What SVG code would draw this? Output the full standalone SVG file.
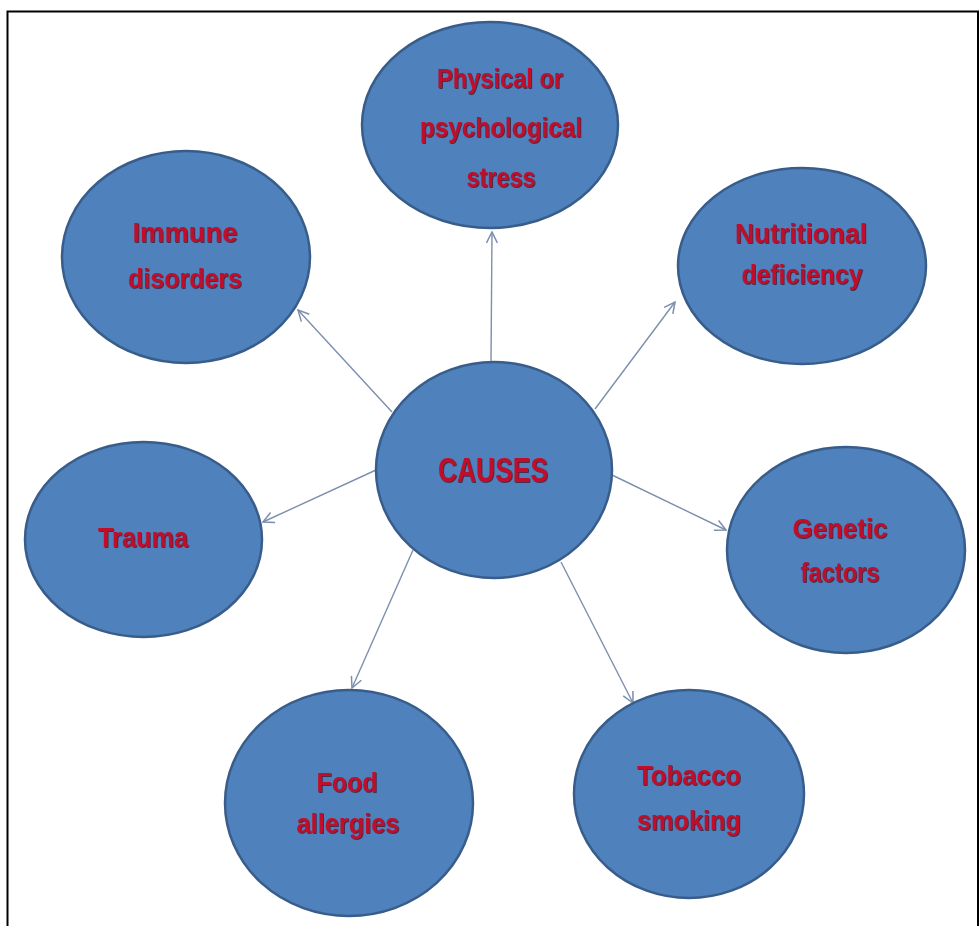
<svg xmlns="http://www.w3.org/2000/svg" width="979" height="926" viewBox="0 0 979 926">
  <style>
    .frame { fill: none; stroke: #000; stroke-width: 2; }
    .node ellipse { fill: #4f81bd; stroke: #385d8a; stroke-width: 2.5; }
    .node text { font-family: "Liberation Sans", Arial, sans-serif; font-weight: bold; font-size: 28px; fill: #c0102a; text-anchor: middle; filter: url(#shade); }
    .edge { stroke: #7c8fae; stroke-width: 1.4; fill: none; marker-end: url(#arrow); }
  </style>
  <defs>
    <marker id="arrow" viewBox="0 0 12 12" refX="11" refY="6" markerWidth="13" markerHeight="13" markerUnits="userSpaceOnUse" orient="auto">
      <path d="M1,1 L11,6 L1,11" fill="none" stroke="#7c8fae" stroke-width="1.4"/>
    </marker>
    <filter id="shade" x="-10%" y="-20%" width="120%" height="140%">
      <feDropShadow dx="0.8" dy="0.8" stdDeviation="0.4" flood-color="#3a0008" flood-opacity="0.8"/>
    </filter>
  </defs>

  <!-- page frame -->
  <path class="frame" d="M7.5,926 V11.5 H978 V926"/>

  <!-- connectors from the central node -->
  <g id="connectors">
    <line class="edge" x1="491" y1="362" x2="492" y2="232"/>
    <line class="edge" x1="392" y1="412" x2="298" y2="310"/>
    <line class="edge" x1="595" y1="409" x2="675" y2="302"/>
    <line class="edge" x1="612" y1="475" x2="726" y2="530"/>
    <line class="edge" x1="376" y1="470" x2="263" y2="522"/>
    <line class="edge" x1="413" y1="550" x2="352" y2="688"/>
    <line class="edge" x1="561" y1="562" x2="633" y2="703"/>
  </g>

  <g id="causes" class="node">
    <ellipse cx="494" cy="470" rx="118" ry="108"/>
    <text x="493" y="482" style="font-size:35px" textLength="110" lengthAdjust="spacingAndGlyphs">CAUSES</text>
  </g>

  <g id="stress" class="node">
    <ellipse cx="490" cy="125" rx="128" ry="103"/>
    <text x="500" y="88" textLength="126" lengthAdjust="spacingAndGlyphs">Physical or</text>
    <text x="501" y="137" textLength="162" lengthAdjust="spacingAndGlyphs">psychological</text>
    <text x="501" y="187" textLength="69" lengthAdjust="spacingAndGlyphs">stress</text>
  </g>

  <g id="immune" class="node">
    <ellipse cx="186" cy="257" rx="124" ry="106"/>
    <text x="185" y="242" textLength="105" lengthAdjust="spacingAndGlyphs">Immune</text>
    <text x="185" y="288" textLength="114" lengthAdjust="spacingAndGlyphs">disorders</text>
  </g>

  <g id="nutrition" class="node">
    <ellipse cx="802" cy="266" rx="124" ry="98"/>
    <text x="801" y="243" textLength="132" lengthAdjust="spacingAndGlyphs">Nutritional</text>
    <text x="802" y="284" textLength="121" lengthAdjust="spacingAndGlyphs">deficiency</text>
  </g>

  <g id="trauma" class="node">
    <ellipse cx="143.5" cy="539.5" rx="118.5" ry="97.5"/>
    <text x="143" y="547" textLength="90" lengthAdjust="spacingAndGlyphs">Trauma</text>
  </g>

  <g id="genetic" class="node">
    <ellipse cx="846" cy="550" rx="119" ry="103"/>
    <text x="840" y="538" textLength="95" lengthAdjust="spacingAndGlyphs">Genetic</text>
    <text x="840" y="582" textLength="79" lengthAdjust="spacingAndGlyphs">factors</text>
  </g>

  <g id="food" class="node">
    <ellipse cx="349" cy="803" rx="124" ry="113"/>
    <text x="347" y="792" textLength="61" lengthAdjust="spacingAndGlyphs">Food</text>
    <text x="348" y="833" textLength="103" lengthAdjust="spacingAndGlyphs">allergies</text>
  </g>

  <g id="tobacco" class="node">
    <ellipse cx="689" cy="794" rx="115" ry="104"/>
    <text x="689" y="785" textLength="104" lengthAdjust="spacingAndGlyphs">Tobacco</text>
    <text x="689" y="830" textLength="104" lengthAdjust="spacingAndGlyphs">smoking</text>
  </g>
</svg>
